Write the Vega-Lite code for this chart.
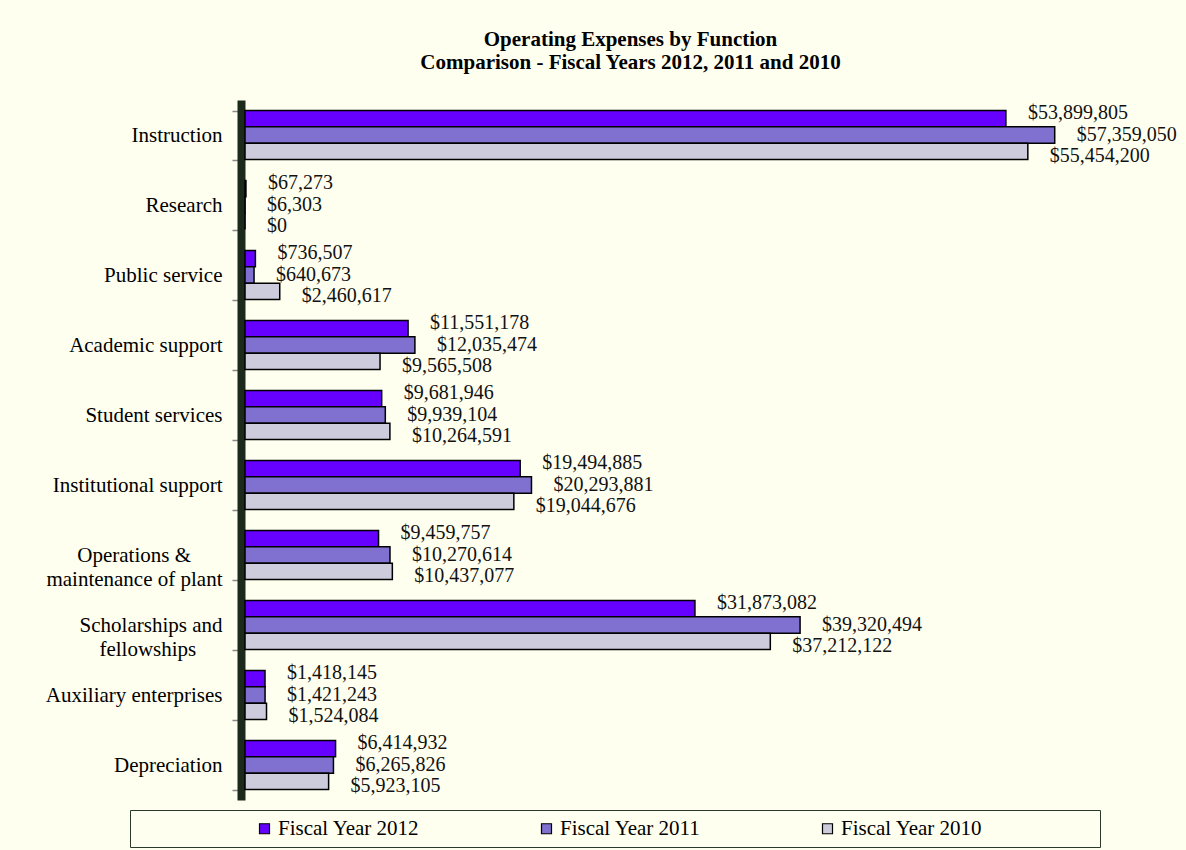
{
  "$schema": "https://vega.github.io/schema/vega-lite/v6.json",
  "width": 847,
  "height": 700,
  "autosize": {"type": "none"},
  "padding": {"left": 245, "top": 100, "right": 94, "bottom": 50},
  "background": "#FFFFF0",
  "title": {
    "text": ["Operating Expenses by Function", "Comparison - Fiscal Years 2012, 2011 and 2010"],
    "font": "Liberation Serif",
    "fontSize": 21,
    "fontWeight": "bold",
    "color": "#000000",
    "anchor": "middle",
    "frame": "group",
    "dx": -38,
    "offset": 16,
    "lineHeight": 23
  },
  "data": {
    "values": [
      {"category": "Instruction", "series": "Fiscal Year 2012", "value": 53899805},
      {"category": "Instruction", "series": "Fiscal Year 2011", "value": 57359050},
      {"category": "Instruction", "series": "Fiscal Year 2010", "value": 55454200},
      {"category": "Research", "series": "Fiscal Year 2012", "value": 67273},
      {"category": "Research", "series": "Fiscal Year 2011", "value": 6303},
      {"category": "Research", "series": "Fiscal Year 2010", "value": 0},
      {"category": "Public service", "series": "Fiscal Year 2012", "value": 736507},
      {"category": "Public service", "series": "Fiscal Year 2011", "value": 640673},
      {"category": "Public service", "series": "Fiscal Year 2010", "value": 2460617},
      {"category": "Academic support", "series": "Fiscal Year 2012", "value": 11551178},
      {"category": "Academic support", "series": "Fiscal Year 2011", "value": 12035474},
      {"category": "Academic support", "series": "Fiscal Year 2010", "value": 9565508},
      {"category": "Student services", "series": "Fiscal Year 2012", "value": 9681946},
      {"category": "Student services", "series": "Fiscal Year 2011", "value": 9939104},
      {"category": "Student services", "series": "Fiscal Year 2010", "value": 10264591},
      {"category": "Institutional support", "series": "Fiscal Year 2012", "value": 19494885},
      {"category": "Institutional support", "series": "Fiscal Year 2011", "value": 20293881},
      {"category": "Institutional support", "series": "Fiscal Year 2010", "value": 19044676},
      {"category": "Operations &|maintenance of plant", "series": "Fiscal Year 2012", "value": 9459757},
      {"category": "Operations &|maintenance of plant", "series": "Fiscal Year 2011", "value": 10270614},
      {"category": "Operations &|maintenance of plant", "series": "Fiscal Year 2010", "value": 10437077},
      {"category": "Scholarships and|fellowships", "series": "Fiscal Year 2012", "value": 31873082},
      {"category": "Scholarships and|fellowships", "series": "Fiscal Year 2011", "value": 39320494},
      {"category": "Scholarships and|fellowships", "series": "Fiscal Year 2010", "value": 37212122},
      {"category": "Auxiliary enterprises", "series": "Fiscal Year 2012", "value": 1418145},
      {"category": "Auxiliary enterprises", "series": "Fiscal Year 2011", "value": 1421243},
      {"category": "Auxiliary enterprises", "series": "Fiscal Year 2010", "value": 1524084},
      {"category": "Depreciation", "series": "Fiscal Year 2012", "value": 6414932},
      {"category": "Depreciation", "series": "Fiscal Year 2011", "value": 6265826},
      {"category": "Depreciation", "series": "Fiscal Year 2010", "value": 5923105}
    ]
  },
  "encoding": {
    "y": {
      "field": "category",
      "type": "nominal",
      "sort": ["Instruction", "Research", "Public service", "Academic support", "Student services", "Institutional support", "Operations &|maintenance of plant", "Scholarships and|fellowships", "Auxiliary enterprises", "Depreciation"],
      "scale": {"paddingInner": 0.3, "paddingOuter": 0.15},
      "axis": {
        "title": null,
        "offset": 4,
        "domainWidth": 8,
        "domainColor": "#1c2a1c",
        "tickBand": "extent",
        "tickSize": 9,
        "tickColor": "#8a8a8a",
        "tickWidth": 1.5,
        "labelFont": "Liberation Serif",
        "labelFontSize": 21,
        "labelColor": "#000000",
        "labelLimit": 300,
        "labelLineHeight": 24,
        "labelExpr": "datum.label == 'Operations &|maintenance of plant' ? ['Operations &\u00a0\u00a0\u00a0\u00a0\u00a0\u00a0\u200b', 'maintenance of plant'] : (datum.label == 'Scholarships and|fellowships' ? ['Scholarships and', 'fellowships\u00a0\u00a0\u00a0\u00a0\u00a0\u200b'] : datum.label)",
        "labelPadding": 10,
        "labelAlign": "right"
      }
    },
    "yOffset": {
      "field": "series",
      "type": "nominal",
      "sort": ["Fiscal Year 2012", "Fiscal Year 2011", "Fiscal Year 2010"]
    },
    "x": {
      "field": "value",
      "type": "quantitative",
      "scale": {"domain": [0, 60000000]},
      "axis": null
    }
  },
  "layer": [
    {
      "mark": {"type": "bar", "stroke": "#000000", "strokeWidth": 1.5},
      "encoding": {
        "color": {
          "field": "series",
          "type": "nominal",
          "scale": {
            "domain": ["Fiscal Year 2012", "Fiscal Year 2011", "Fiscal Year 2010"],
            "range": ["#6600FF", "#8070D0", "#CCCCDD"]
          },
          "legend": {
            "orient": "none",
            "legendX": -115,
            "legendY": 710,
            "direction": "horizontal",
            "columns": 3,
            "title": "\u00a0",
            "titleOrient": "right",
            "titlePadding": 110,
            "titleFont": "Liberation Serif",
            "titleFontSize": 21,
            "labelFont": "Liberation Serif",
            "labelFontSize": 21,
            "labelColor": "#000000",
            "labelLimit": 600,
            "labelOffset": 3,
            "symbolOffset": 116,
            "columnPadding": 0,
            "padding": 8,
            "fillColor": "#FFFFF0",
            "strokeColor": "#2a3a2a",
            "symbolType": "square",
            "symbolSize": 100,
            "symbolStrokeColor": "#000000",
            "symbolStrokeWidth": 1.2
          }
        }
      }
    },
    {
      "transform": [{"filter": "datum.series == 'Fiscal Year 2012'"}],
      "mark": {"type": "text", "font": "Liberation Serif", "fontSize": 20, "color": "#111111", "align": "left", "baseline": "middle", "dx": 22, "dy": -6},
      "encoding": {"text": {"field": "value", "type": "quantitative", "format": "$,.0f"}}
    },
    {
      "transform": [{"filter": "datum.series == 'Fiscal Year 2011'"}],
      "mark": {"type": "text", "font": "Liberation Serif", "fontSize": 20, "color": "#111111", "align": "left", "baseline": "middle", "dx": 22, "dy": 0},
      "encoding": {"text": {"field": "value", "type": "quantitative", "format": "$,.0f"}}
    },
    {
      "transform": [{"filter": "datum.series == 'Fiscal Year 2010'"}],
      "mark": {"type": "text", "font": "Liberation Serif", "fontSize": 20, "color": "#111111", "align": "left", "baseline": "middle", "dx": 22, "dy": 5},
      "encoding": {"text": {"field": "value", "type": "quantitative", "format": "$,.0f"}}
    }
  ],
  "config": {
    "font": "Liberation Serif",
    "view": {"stroke": null},
    "legend": {"labelFont": "Liberation Serif", "labelFontSize": 21, "labelColor": "#000000"}
  }
}
